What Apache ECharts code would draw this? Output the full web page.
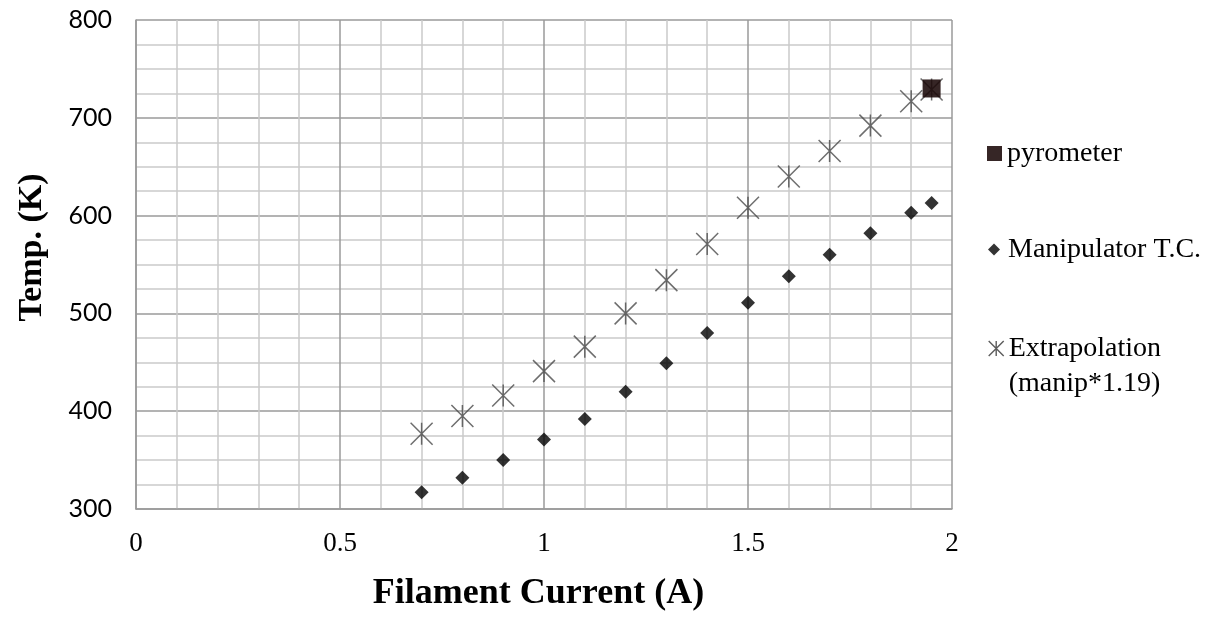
<!DOCTYPE html>
<html><head><meta charset="utf-8">
<script src="https://cdn.jsdelivr.net/npm/echarts@6/dist/echarts.min.js"></script>
<style>html,body{margin:0;padding:0;background:#fff}#c{width:1216px;height:617px}</style>
</head><body><div id="c"></div>
<script>
var currents = [0.7, 0.8, 0.9, 1.0, 1.1, 1.2, 1.3, 1.4, 1.5, 1.6, 1.7, 1.8, 1.9, 1.95];
var manipulatorTC = [317, 332, 350, 371, 392, 420, 449, 480, 511, 538, 560, 582, 603, 613];
var extrapolation = [377, 395, 416, 441, 466, 500, 534, 571, 608, 640, 666, 692, 717, 729];
var pyrometerX = [1.95];
var pyrometerY = [730];
var xTicks = [0, 0.5, 1, 1.5, 2];
var yTicks = [300, 400, 500, 600, 700, 800];

var SERIF = '"Liberation Serif", "DejaVu Serif", serif';
var SANS = 'Lato, "Open Sans", sans-serif';
var starPath = 'path://M0,0L20,20M20,0L0,20M10,0L10,20';

function pairs(xs, ys) { return xs.map(function (x, i) { return [x, ys[i]]; }); }

var chart = echarts.init(document.getElementById('c'));
var legendText = { fontFamily: SERIF, fontSize: 28, color: '#000', lineHeight: 35 };
chart.setOption({
  animation: false,
  grid: { left: 136, right: 264, top: 20, bottom: 107 },
  legend: [
    { data: [{ name: 'pyrometer', icon: 'rect' }], orient: 'vertical', left: 982, top: 131,
      itemWidth: 15, itemHeight: 15, itemGap: 0, textStyle: legendText, selectedMode: false },
    { data: [{ name: 'Manipulator T.C.', icon: 'diamond' }], orient: 'vertical', left: 983, top: 227,
      itemWidth: 12, itemHeight: 12, itemGap: 0, selectedMode: false,
      textStyle: Object.assign({}, legendText, { padding: [0, 0, 0, 3] }) },
    { data: [{ name: 'Extrapolation', icon: starPath, itemStyle: { color: 'transparent', borderColor: '#333', borderWidth: 1.4 } }],
      orient: 'vertical', left: 983, top: 291,
      itemWidth: 15, itemHeight: 15, itemGap: 0, selectedMode: false,
      formatter: function () { return ' \nExtrapolation\n(manip*1.19)'; },
      textStyle: legendText }
  ],
  xAxis: {
    type: 'value', min: 0, max: 2, interval: 0.5,
    axisLine: { show: true, lineStyle: { color: '#999', width: 1.5 } },
    axisTick: { show: false },
    axisLabel: { fontFamily: SERIF, fontSize: 27, color: '#000', margin: 21,
      formatter: function (v) { return xTicks.indexOf(v) >= 0 ? String(v) : ''; } },
    splitLine: { show: true, lineStyle: { color: '#9a9a9a', width: 1.5 } },
    minorTick: { show: false, splitNumber: 5 },
    minorSplitLine: { show: true, lineStyle: { color: '#cacaca', width: 1.5 } },
    name: 'Filament Current (A)', nameLocation: 'middle', nameGap: 67,
    nameTextStyle: { fontFamily: SERIF, fontSize: 36, fontWeight: 'bold', color: '#000', padding: [0, 11, 0, 0] }
  },
  yAxis: {
    type: 'value', min: 300, max: 800, interval: 100,
    axisLine: { show: true, lineStyle: { color: '#999', width: 1.5 } },
    axisTick: { show: false },
    axisLabel: { fontFamily: SANS, fontSize: 25, color: '#000', margin: 24,
      formatter: function (v) { return yTicks.indexOf(v) >= 0 ? String(v) : ''; } },
    splitLine: { show: true, lineStyle: { color: '#9a9a9a', width: 1.5 } },
    minorTick: { show: false, splitNumber: 4 },
    minorSplitLine: { show: true, lineStyle: { color: '#cacaca', width: 1.5 } },
    name: 'Temp. (K)', nameLocation: 'middle', nameGap: 87, nameRotate: 90,
    nameTextStyle: { fontFamily: SERIF, fontSize: 34, fontWeight: 'bold', color: '#000', padding: [0, 0, 0, 34] }
  },
  series: [
    { name: 'Extrapolation', type: 'scatter', symbol: starPath, symbolSize: 22,
      data: pairs(currents, extrapolation), z: 3,
      itemStyle: { color: 'transparent', borderColor: '#4a4a4a', borderWidth: 1.5 } },
    { name: 'Manipulator T.C.', type: 'scatter', symbol: 'diamond', symbolSize: 14,
      data: pairs(currents, manipulatorTC), z: 4, itemStyle: { color: '#000' } },
    { name: 'pyrometer', type: 'scatter', symbol: 'rect', symbolSize: 18,
      data: pairs(pyrometerX, pyrometerY), z: 5, itemStyle: { color: '#1a0808', opacity: 0.88 } }
  ]
});
</script></body></html>
